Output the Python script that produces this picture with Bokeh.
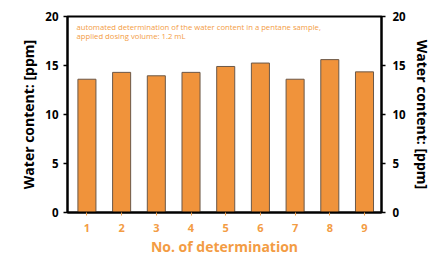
from bokeh.plotting import figure
from bokeh.models import LinearAxis, Label, FixedTicker, Range1d, ColumnDataSource
from bokeh.embed import file_html
from bokeh.resources import INLINE

determinations = [1, 2, 3, 4, 5, 6, 7, 8, 9]
water_ppm = [13.6, 14.3, 13.95, 14.3, 14.9, 15.25, 13.6, 15.6, 14.35]
y_ticks = [0, 5, 10, 15, 20]

ORANGE = "#F0933B"
TEXT_ORANGE = "#F39C44"
FONT = "Open Sans"
Y_LABEL = "Water content: [ppm]"

src = ColumnDataSource(dict(x=determinations, top=water_ppm))

p = figure(width=434, height=258, output_backend="svg", toolbar_location=None,
           x_range=Range1d(0.44, 9.49), y_range=Range1d(0, 20),
           min_border_left=67, min_border_top=16, min_border_right=48, min_border_bottom=46)
p.grid.visible = False
p.outline_line_color = "black"
p.outline_line_width = 2

p.vbar(x="x", top="top", width=0.52, bottom=0, source=src,
       fill_color=ORANGE, line_color="#6b5848", line_width=1)

# x axis
xa = p.xaxis[0]
xa.ticker = FixedTicker(ticks=determinations)
xa.axis_label = "No. of determination"
xa.axis_label_text_color = TEXT_ORANGE
xa.axis_label_text_font = FONT
xa.axis_label_text_font_style = "bold"
xa.axis_label_text_font_size = "14px"
xa.axis_label_standoff = 2
xa.major_label_text_color = TEXT_ORANGE
xa.major_label_text_font = FONT
xa.major_label_text_font_style = "bold"
xa.major_label_text_font_size = "11px"
xa.major_label_standoff = 8
xa.major_tick_line_color = TEXT_ORANGE
xa.major_tick_out = 3
xa.major_tick_in = 0
xa.minor_tick_line_color = None
xa.axis_line_color = "black"
xa.axis_line_width = 2

def style_y(ax, standoff):
    ax.ticker = FixedTicker(ticks=y_ticks)
    ax.axis_label = Y_LABEL
    ax.axis_label_text_font = FONT
    ax.axis_label_text_font_style = "bold"
    ax.axis_label_text_font_size = "14px"
    ax.axis_label_text_color = "black"
    ax.axis_label_standoff = 4
    ax.major_label_text_font = FONT
    ax.major_label_text_font_style = "bold"
    ax.major_label_text_font_size = "11.5px"
    ax.major_label_text_color = "black"
    ax.major_label_standoff = standoff
    ax.major_tick_out = 4
    ax.major_tick_in = 0
    ax.major_tick_line_width = 1.5
    ax.minor_tick_line_color = None
    ax.axis_line_width = 2
    ax.axis_line_color = "black"

style_y(p.yaxis[0], 5)
ra = LinearAxis()
style_y(ra, 7)
# right-hand axis title reads bottom-to-top like the left one
ra.axis_label_orientation = "vertical"
p.add_layout(ra, "right")

p.add_layout(Label(x=0.7, y=19.4, text="automated determination of the water content in a pentane sample,",
                   text_font=FONT, text_font_size="7.7px", text_color=TEXT_ORANGE, text_baseline="top"))
p.add_layout(Label(x=0.7, y=18.5, text="applied dosing volume: 1.2 mL",
                   text_font=FONT, text_font_size="7.7px", text_color=TEXT_ORANGE, text_baseline="top"))

open("out.html", "w").write(file_html(p, INLINE))
